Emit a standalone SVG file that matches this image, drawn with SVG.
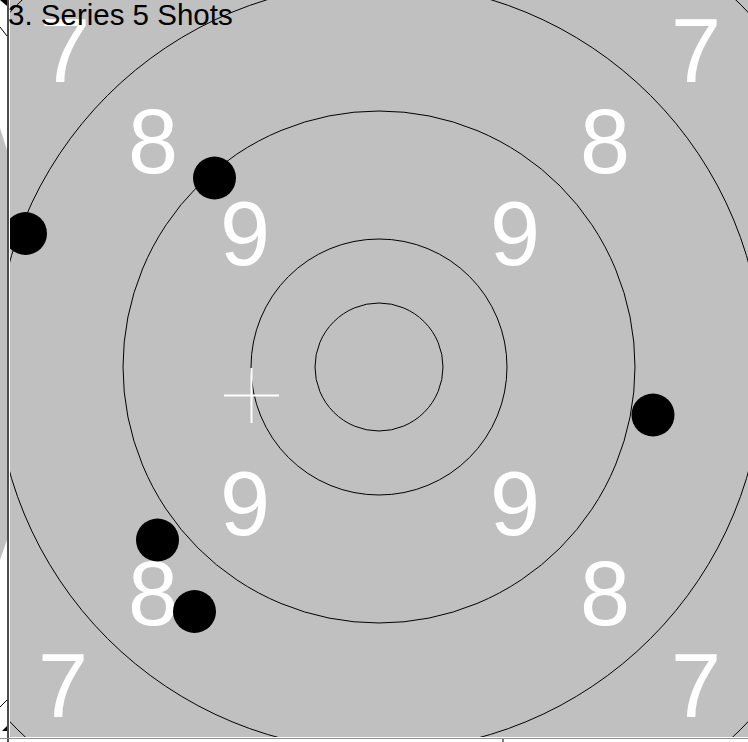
<svg xmlns="http://www.w3.org/2000/svg" width="748" height="742" viewBox="0 0 748 742">
<style>
.ring{fill:none;stroke:#000;stroke-width:1}
.score{font-family:"Liberation Sans",Arial,sans-serif;font-size:90px;fill:#fff;text-anchor:middle}
.shot{fill:#000}
.title{font-family:"Liberation Sans",Arial,sans-serif;font-size:29.5px;fill:#000}
</style>
<defs>
<clipPath id="plot"><rect x="10" y="0" width="738" height="737"/></clipPath>
</defs>
<rect width="748" height="742" fill="#fff"/>
<g id="leftStrip">
<polygon points="0,128 7,150 7,540 0,560" fill="#c0c0c0"/>
<polygon points="0,0 7,0 7,6" fill="#000"/>
<line x1="0" y1="27" x2="7" y2="36" stroke="#000" stroke-width="1"/>
<line x1="0" y1="707" x2="7" y2="700" stroke="#000" stroke-width="1"/>
<polygon points="7,726 7,731 2,731" fill="#000"/>
</g>
<g id="target" clip-path="url(#plot)">
<rect x="10" y="0" width="738" height="737" fill="#c0c0c0"/>
<circle class="ring" cx="379" cy="367" r="64"/>
<circle class="ring" cx="379" cy="367" r="128"/>
<circle class="ring" cx="379" cy="367" r="256"/>
<circle class="ring" cx="379" cy="367" r="384"/>
<circle class="ring" cx="379" cy="367" r="512"/>
<g id="labels">
<text class="score" x="65" y="82">7</text>
<text class="score" x="696" y="82">7</text>
<text class="score" x="153" y="173">8</text>
<text class="score" x="605" y="173">8</text>
<text class="score" x="245" y="265">9</text>
<text class="score" x="515" y="265">9</text>
<text class="score" x="245" y="535">9</text>
<text class="score" x="515" y="535">9</text>
<text class="score" x="153" y="625">8</text>
<text class="score" x="605" y="625">8</text>
<text class="score" x="63" y="717">7</text>
<text class="score" x="696" y="717">7</text>
</g>
<g id="cross" stroke="#fff" stroke-width="2">
<line x1="224" y1="395.5" x2="279" y2="395.5"/>
<line x1="251.5" y1="368" x2="251.5" y2="423"/>
</g>
<g id="shots">
<circle id="shot1" class="shot" cx="214.5" cy="178" r="21.5"/>
<circle id="shot2" class="shot" cx="25.5" cy="233.5" r="21.5"/>
<circle id="shot3" class="shot" cx="653" cy="415" r="21.5"/>
<circle id="shot4" class="shot" cx="157.5" cy="540" r="21.5"/>
<circle id="shot5" class="shot" cx="194.5" cy="611.5" r="21.5"/>
</g>
</g>
<g id="axes">
<line x1="8" y1="0" x2="8" y2="742" stroke="#000" stroke-width="1.4"/>
<line x1="0" y1="738.5" x2="748" y2="738.5" stroke="#909090" stroke-width="1"/>
<line x1="503" y1="739" x2="503" y2="742" stroke="#000" stroke-width="1"/>
</g>
<text class="title" x="8" y="25">3. Series 5 Shots</text>
</svg>
